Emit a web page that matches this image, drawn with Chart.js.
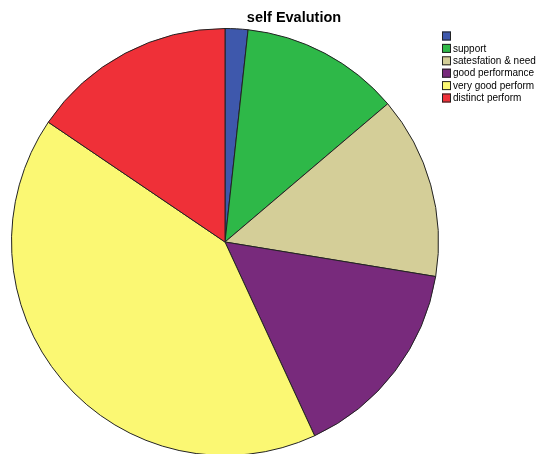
<!DOCTYPE html>
<html>
<head>
<meta charset="utf-8">
<script src="https://cdn.jsdelivr.net/npm/chart.js@4"></script>
<style>
  html, body { margin: 0; padding: 0; background: #fff; overflow: hidden; }
  #wrap { position: relative; width: 540px; height: 460px; }
</style>
</head>
<body>
<div id="wrap"><canvas id="pie"></canvas></div>
<script>
const categories = ["", "support", "satesfation & need", "good performance", "very good perform", "distinct perform"];
const counts = [1, 7, 8, 9, 24, 9];
const sliceColors = ["#3E58AC", "#2EB848", "#D4CE98", "#782A7C", "#FBF873", "#EF3038"];
const chartTitle = "self Evalution";

// title + legend drawn straight onto the canvas so the pie keeps its full size
const sideLegend = {
  id: "sideLegend",
  afterDraw(chart) {
    const ctx = chart.ctx;
    ctx.save();
    ctx.fillStyle = "#000";
    ctx.font = "bold 14.5px 'Liberation Sans', Arial, sans-serif";
    ctx.textAlign = "center";
    ctx.textBaseline = "middle";
    ctx.fillText(chartTitle, 294, 18);

    ctx.font = "10px 'Liberation Sans', Arial, sans-serif";
    ctx.textAlign = "left";
    const labels = chart.data.labels;
    const colors = chart.data.datasets[0].backgroundColor;
    labels.forEach((lab, i) => {
      const y = 36 + i * 12.4;
      ctx.fillStyle = colors[i];
      ctx.fillRect(442, y - 4.5, 9, 9);
      ctx.strokeStyle = "#222";
      ctx.lineWidth = 1;
      ctx.strokeRect(442.5, y - 4, 8, 8);
      ctx.fillStyle = "#000";
      ctx.fillText(lab, 453, y + 0.5);
    });
    ctx.restore();
  }
};

new Chart(document.getElementById("pie"), {
  type: "pie",
  plugins: [sideLegend],
  data: {
    labels: categories,
    datasets: [{
      data: counts,
      backgroundColor: sliceColors,
      borderColor: "#222",
      borderWidth: 1
    }]
  },
  options: {
    responsive: true,
    maintainAspectRatio: false,
    animation: false,
    layout: { padding: { left: 11, right: 101, top: 28, bottom: 4 } },
    plugins: {
      legend: { display: false },
      title: { display: false },
      tooltip: { enabled: false }
    }
  }
});
</script>
</body>
</html>
